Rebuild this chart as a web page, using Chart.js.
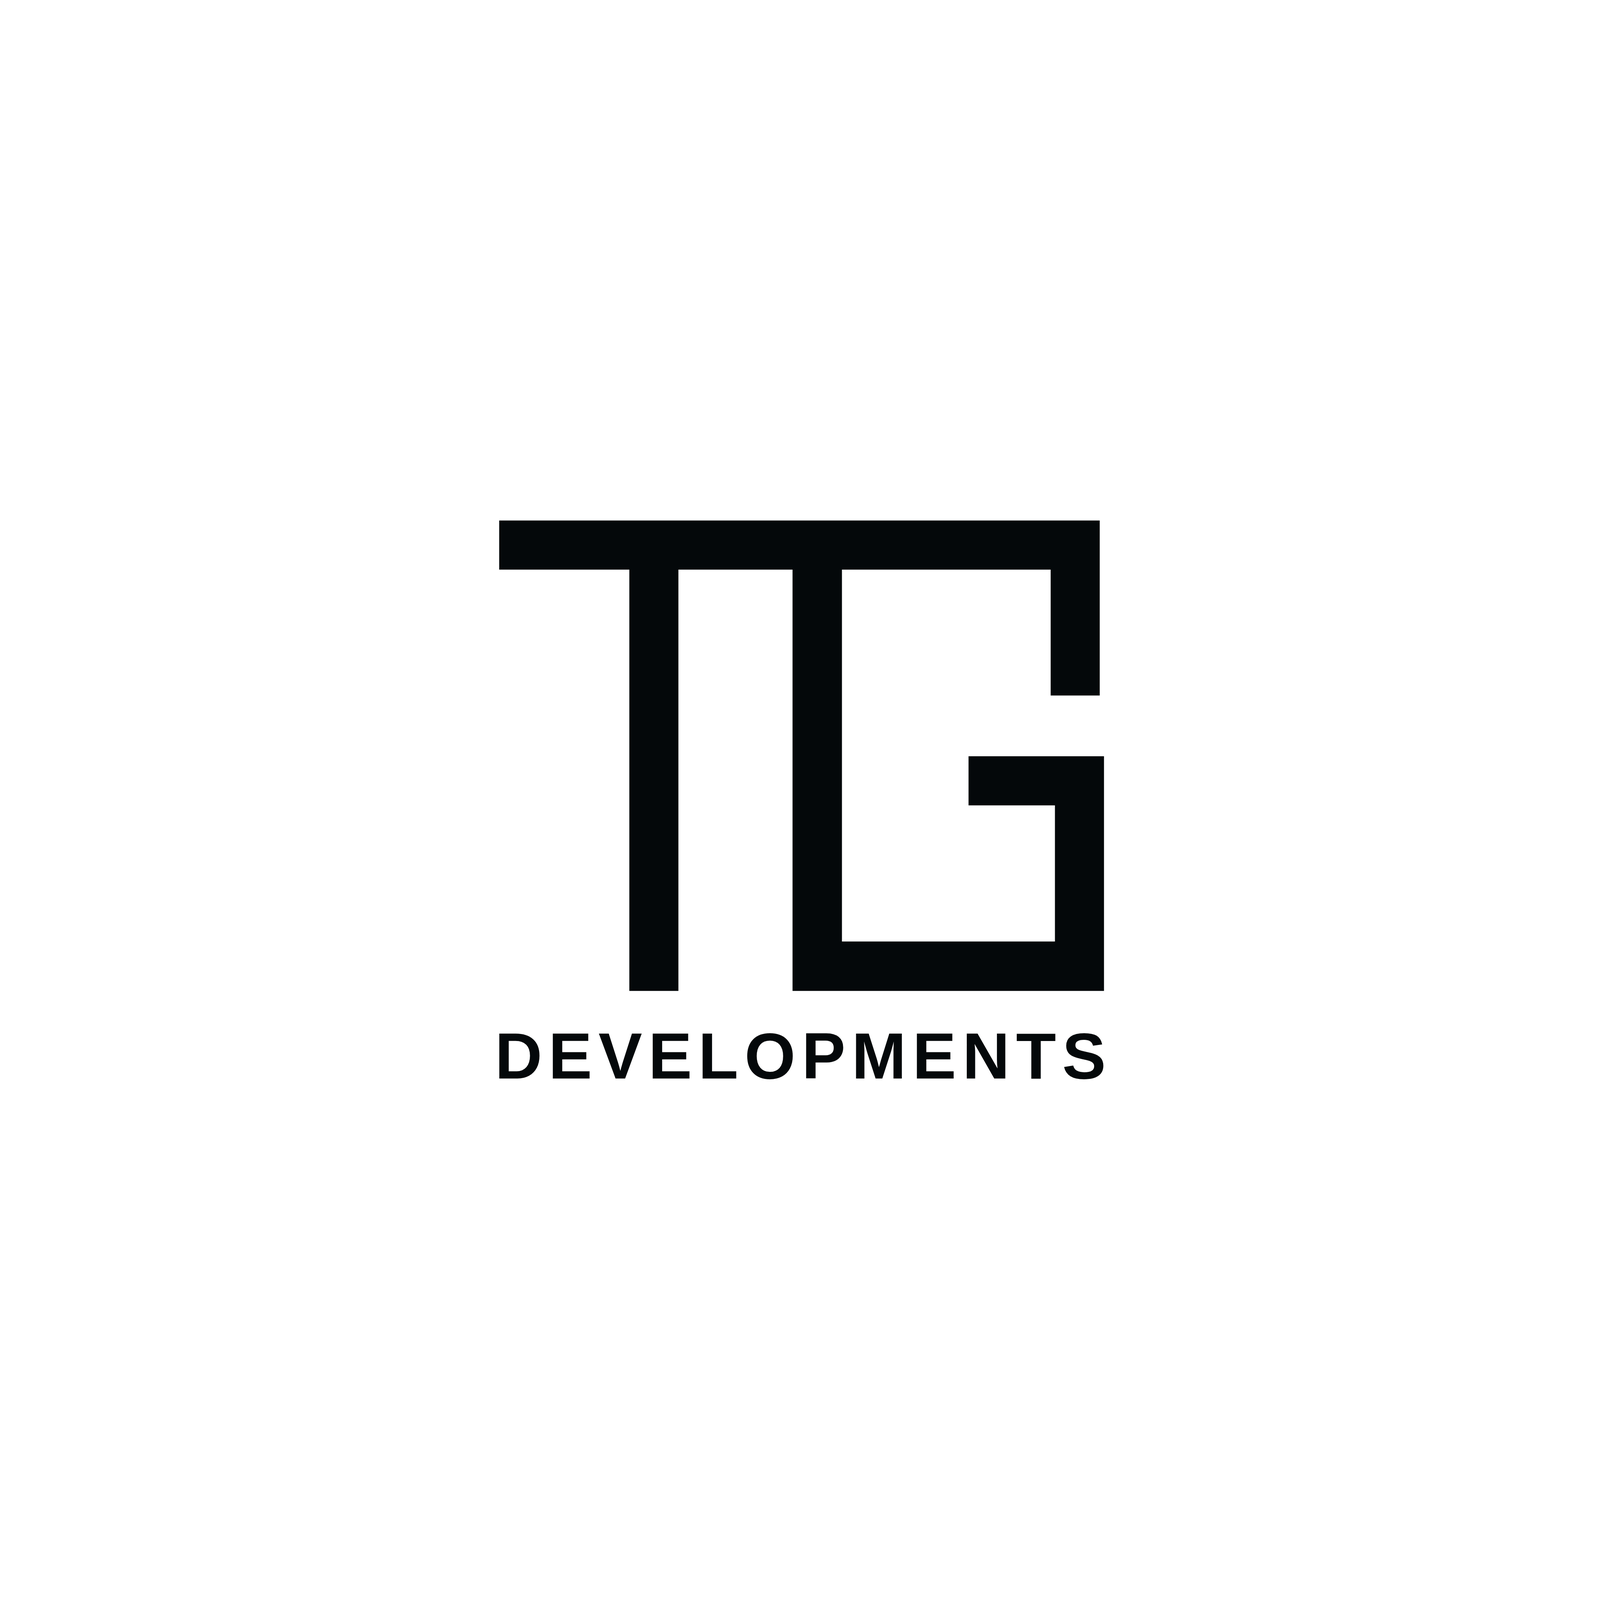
<!DOCTYPE html>
<html>
<head>
<meta charset="utf-8">
<script src="https://cdn.jsdelivr.net/npm/chart.js@4.4.1/dist/chart.umd.min.js"></script>
<style>
  html, body { margin: 0; padding: 0; background: #ffffff; overflow: hidden; }
  #marco { position: fixed; left: 0; top: 0; width: 100vw; height: 100vh; }
  canvas { display: block; }
</style>
</head>
<body>
<div id="marco"><canvas id="logo"></canvas></div>
<script>
// outline of the TG mark, clockwise from the top left corner (page units, 4500 x 4500)
const outlineX = [1404, 3093, 3093, 2955, 2955, 2368, 2368, 2967, 2967, 2724, 2724, 3105, 3105, 2229, 2229, 1908, 1908, 1770, 1770, 1404, 1404];
const outlineY = [1464, 1464, 1956, 1956, 1602, 1602, 2648, 2648, 2265, 2265, 2127, 2127, 2787, 2787, 1602, 1602, 2787, 2787, 1602, 1602, 1464];

const wordmark = "DEVELOPMENTS";

const inkColor = "#04080a";
const textLeft = 1404;
const textRight = 3104;
const textBaseline = 3033;
const textTop = 2904;

const puntos = outlineX.map((x, i) => ({ x: x, y: outlineY[i] }));

// dibuja la palabra con espaciado uniforme entre letras
const wordmarkPlugin = {
  id: "wordmark",
  afterDatasetsDraw(chart) {
    const ctx = chart.ctx;
    const sx = chart.scales.x;
    const sy = chart.scales.y;
    const left = sx.getPixelForValue(textLeft);
    const right = sx.getPixelForValue(textRight);
    const base = sy.getPixelForValue(textBaseline);
    const capHeight = base - sy.getPixelForValue(textTop);

    ctx.save();
    ctx.font = "bold 100px 'Liberation Sans', Arial, sans-serif";
    const probe = ctx.measureText("H").actualBoundingBoxAscent;
    const size = 100 * capHeight / probe;
    ctx.font = "bold " + size + "px 'Liberation Sans', Arial, sans-serif";
    ctx.fillStyle = inkColor;
    ctx.textBaseline = "alphabetic";
    ctx.textAlign = "left";

    const letras = wordmark.split("");
    const medidas = letras.map((l) => ctx.measureText(l));
    const start = left + medidas[0].actualBoundingBoxLeft;
    let suma = 0;
    for (let i = 0; i < letras.length - 1; i++) suma += medidas[i].width;
    const ultima = medidas[letras.length - 1];
    const espacio = (right - start - suma - ultima.actualBoundingBoxRight) / (letras.length - 1);

    let x = start;
    letras.forEach((l, i) => {
      ctx.fillText(l, x, base);
      x += medidas[i].width + espacio;
    });
    ctx.restore();
  }
};

new Chart(document.getElementById("logo"), {
  type: "scatter",
  data: {
    datasets: [
      {
        label: "TG",
        data: puntos,
        showLine: true,
        fill: "shape",
        backgroundColor: inkColor,
        borderColor: inkColor,
        borderWidth: 0,
        pointRadius: 0,
        tension: 0
      }
    ]
  },
  options: {
    responsive: true,
    maintainAspectRatio: false,
    animation: false,
    layout: { padding: 0 },
    plugins: {
      legend: { display: false },
      tooltip: { enabled: false },
      title: { display: false }
    },
    scales: {
      x: { type: "linear", display: false, min: 0, max: 4500 },
      y: { type: "linear", display: false, min: 0, max: 4500, reverse: true }
    }
  },
  plugins: [wordmarkPlugin]
});
</script>
</body>
</html>
